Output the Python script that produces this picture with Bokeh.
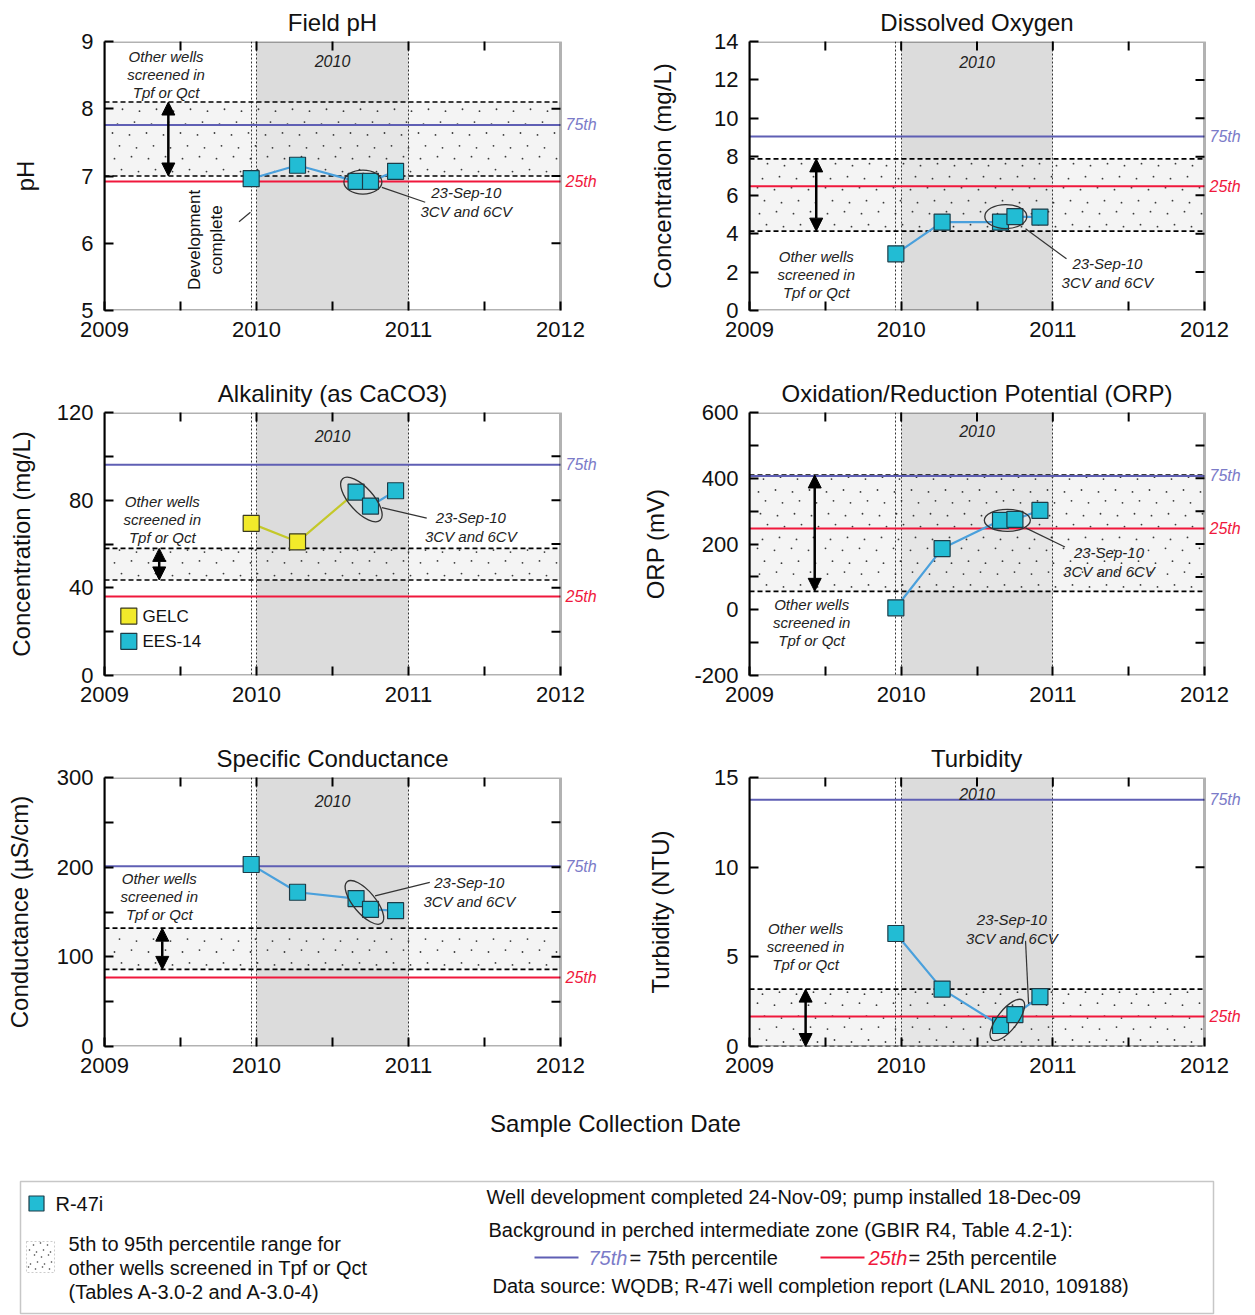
import math
from bokeh.plotting import figure
from bokeh.models import Range1d, FixedTicker, Label, Arrow, NormalHead, BoxAnnotation
from bokeh.layouts import column, row
from bokeh.embed import file_html
from bokeh.resources import INLINE

FONT = "Liberation Sans"

# ---------------- data ----------------
year_ticks = [2009, 2010, 2011, 2012]
half_year_ticks = [2009.5, 2010.5, 2011.5]
highlight_years = [2010.0, 2011.0]
pump_installed = 2009.965
sample_years = [2009.965, 2010.27, 2010.655, 2010.75, 2010.915]

ph_values = [6.96, 7.16, 6.92, 6.92, 7.07]
ph_p75, ph_p25 = 7.76, 6.92
ph_band = [7.0, 8.1]

do_values = [2.95, 4.6, 4.6, 4.89, 4.86]
do_p75, do_p25 = 9.06, 6.47
do_band = [4.13, 7.89]

alk_gelc_years = [2009.965, 2010.27]
alk_gelc_values = [69.4, 61.0]
alk_ees_years = [2010.655, 2010.75, 2010.915]
alk_ees_values = [83.7, 77.3, 84.3]
alk_p75, alk_p25 = 96.2, 36.0
alk_band = [43.6, 58.0]

orp_values = [6, 186, 272, 275, 302]
orp_p75, orp_p25 = 407, 247
orp_band = [56, 410]

cond_values = [203, 172, 165, 153, 151.5]
cond_p75, cond_p25 = 201, 77
cond_band = [86, 132]

turb_values = [6.3, 3.2, 1.17, 1.78, 2.78]
turb_p75, turb_p25 = 13.76, 1.67
turb_band = [0.0, 3.2]

# ---------------- style ----------------
C75 = "#5f5fb4"
C75T = "#7b7bc8"
C25 = "#f0183c"
CMARK = "#22bcd4"
CLINE = "#4aa0dc"
CGELC = "#f2ea2a"
CGELCL = "#c4c82a"
GRAY = "#dcdcdc"
EXT_PX = 46  # room right of the 2012 edge for the "75th"/"25th" tags
TITLE_PX = 24

# approximate Arial/Liberation Sans advance widths (per 1000 em) for centring titles
_W = {' ': 278, '(': 333, ')': 333, '/': 278, 'A': 667, 'C': 722, 'D': 722, 'F': 611,
      'H': 722, 'L': 556, 'O': 778, 'P': 667, 'R': 722, 'S': 667, 'T': 611, 'a': 556,
      'b': 556, 'c': 500, 'd': 556, 'e': 556, 'f': 278, 'g': 556, 'h': 556, 'i': 222,
      'k': 500, 'l': 222, 'n': 556, 'o': 556, 'p': 556, 'r': 333, 's': 500, 't': 278,
      'u': 556, 'v': 500, 'x': 500, 'y': 500}


def text_width(t, px):
    return sum(_W.get(c, 556) for c in t) * px / 1000.0


def style_axis(ax):
    ax.axis_line_width = 2
    ax.axis_line_color = "black"
    ax.major_tick_in = 9
    ax.major_tick_out = 0
    ax.minor_tick_in = 9
    ax.minor_tick_out = 0
    ax.major_tick_line_width = 2
    ax.minor_tick_line_width = 2
    ax.major_tick_line_color = "black"
    ax.minor_tick_line_color = "black"
    ax.major_label_text_font = FONT
    ax.major_label_text_color = "#111111"
    ax.major_label_text_font_size = "22px"


def stipple(p, x0, x1, y0, y1, sx, sy, step_x=17, step_y=12, size=1.8):
    """light irregular dot texture inside a rectangle (decoration only)"""
    bw = (x1 - x0) * sx
    bh = (y1 - y0) * sy
    xs, ys = [], []
    for j in range(int(bh // step_y) + 1):
        for i in range(int(bw // step_x) + 1):
            px = i * step_x + (j * 7) % step_x + (i * 5 + j * 3) % 5
            py = step_y / 2 + j * step_y + (i * 2 + j) % 4 - 1.5
            if 1 < px < bw - 1 and 1 < py < bh - 1:
                xs.append(x0 + px / sx)
                ys.append(y0 + py / sy)
    p.scatter(xs, ys, marker="circle", size=size, fill_color="#1a1a1a",
              line_color=None, fill_alpha=0.85)


def panel(title, ylabel, yrange, yticks, yminor, band, p75, p25,
          w, h, bl, br, bt, bb, ylab_standoff, year_lab_off, notes):
    fw = w - bl - br            # frame width for 2009..2012
    fh = h - bt - bb
    sx = fw / 3.0
    sy = fh / (yrange[1] - yrange[0])
    xend = 2012 + EXT_PX / sx
    p = figure(width=w, height=h, x_range=Range1d(2009, xend),
               y_range=Range1d(*yrange), output_backend="svg",
               toolbar_location=None, title=title,
               min_border_left=bl, min_border_right=br - EXT_PX,
               min_border_top=bt, min_border_bottom=bb)
    p.title.align = "left"
    p.title.offset = fw / 2 - text_width(title, TITLE_PX) / 2
    p.title.text_font = FONT
    p.title.text_font_size = f"{TITLE_PX}px"
    p.title.text_font_style = "normal"
    p.title.text_color = "#111111"
    p.title.standoff = 12
    p.grid.visible = False
    p.outline_line_color = None

    xt = FixedTicker(ticks=year_ticks, minor_ticks=half_year_ticks)
    yt = FixedTicker(ticks=yticks, minor_ticks=yminor)
    p.xaxis.ticker = xt
    p.yaxis.ticker = yt
    style_axis(p.xaxis[0])
    style_axis(p.yaxis[0])
    p.xaxis.axis_line_color = None
    p.xaxis.major_label_standoff = 11
    p.yaxis.major_label_standoff = 11
    p.yaxis.major_label_overrides = {t: str(t) for t in yticks if t < 0}
    p.yaxis.axis_label = ylabel
    p.yaxis.axis_label_text_font = FONT
    p.yaxis.axis_label_text_font_size = "24px"
    p.yaxis.axis_label_text_font_style = "normal"
    p.yaxis.axis_label_text_color = "#111111"
    p.yaxis.axis_label_standoff = ylab_standoff

    # shaded year 2010
    p.vstrip(x0=[highlight_years[0]], x1=[highlight_years[1]],
             fill_color=GRAY, line_color=None)
    # band of other wells (pale fill + stipple)
    p.quad(left=[2009], right=[2012], bottom=[band[0]], top=[band[1]],
           fill_color="#ececec", fill_alpha=0.6, line_color=None)
    stipple(p, 2009, 2012, band[0], band[1], sx, sy)
    p.vspan(x=[pump_installed, highlight_years[0], highlight_years[1]],
            line_color="#333333", line_dash="2 2", line_width=1)
    p.segment(x0=[2009, 2009], x1=[2012, 2012], y0=band, y1=band,
              line_color="black", line_dash="5 3", line_width=1.6)
    p.segment(x0=[2009], x1=[2012], y0=[p75], y1=[p75], line_color=C75, line_width=2)
    p.segment(x0=[2009], x1=[2012], y0=[p25], y1=[p25], line_color=C25, line_width=2)

    # frame box (2009..2012) and mirrored inward ticks on top / right edges
    p.add_layout(BoxAnnotation(left=2009, right=2012, bottom=yrange[0], top=yrange[1],
                               fill_alpha=0, line_color="black", line_width=3,
                               level="overlay"))
    xtk = [t for t in year_ticks + half_year_ticks if 2009 < t < 2012]
    p.scatter(xtk, [yrange[1]] * len(xtk), marker="dash", angle=math.pi / 2,
              size=18, line_color="black", line_width=2)
    ytk = [t for t in yticks + yminor if yrange[0] < t < yrange[1]]
    tick_len = 9 / sx
    p.segment(x0=[2012 - tick_len] * len(ytk), x1=[2012] * len(ytk), y0=ytk, y1=ytk,
              line_color="black", line_width=2)

    p.add_layout(Label(x=2012, y=p75, x_offset=5, text="75th",
                       text_font=FONT, text_font_style="italic",
                       text_font_size="16px", text_color=C75T,
                       text_baseline="middle"))
    p.add_layout(Label(x=2012, y=p25, x_offset=5, text="25th",
                       text_font=FONT, text_font_style="italic",
                       text_font_size="16px", text_color=C25,
                       text_baseline="middle"))
    p.add_layout(Label(x=2010.5, y=yrange[1], y_offset=-year_lab_off,
                       text="2010", text_font=FONT, text_font_style="italic",
                       text_font_size="16px", text_color="#222222",
                       text_align="center", text_baseline="middle"))

    # other wells text + arrow
    ox, oy = notes["other"]
    for i, t in enumerate(["Other wells", "screened in", "Tpf or Qct"]):
        p.add_layout(Label(x=ox, y=oy, y_offset=-18 * i, text=t,
                           text_font=FONT, text_font_style="italic",
                           text_font_size="15px", text_color="#222222",
                           text_align="center", text_baseline="middle"))
    ax_ = notes["arrow_x"]
    p.add_layout(Arrow(x_start=ax_, y_start=band[0], x_end=ax_, y_end=band[1],
                       line_width=2.5, line_color="black",
                       start=NormalHead(size=13, fill_color="black", line_color="black"),
                       end=NormalHead(size=13, fill_color="black", line_color="black")))
    return p


def add_series(p, xs, ys, line_color, fill_color):
    p.line(xs, ys, line_color=line_color, line_width=2.2)
    p.scatter(xs, ys, marker="square", size=16, fill_color=fill_color,
              line_color="#1d3c48", line_width=1.2)


def add_callout(p, notes):
    cx, cy, ew, eh, ang = notes["ellipse"]
    p.ellipse(x=[cx], y=[cy], width=[ew], height=[eh], angle=[math.radians(ang)],
              width_units="screen", height_units="screen",
              fill_alpha=0, line_color="#333333", line_width=1.3)
    x0, y0, x1, y1 = notes["leader"]
    p.segment(x0=[x0], y0=[y0], x1=[x1], y1=[y1], line_color="#333333", line_width=1.2)
    tx, ty = notes["sep"]
    for i, t in enumerate(["23-Sep-10", "3CV and 6CV"]):
        p.add_layout(Label(x=tx, y=ty, y_offset=-19 * i, text=t,
                           text_font=FONT, text_font_style="italic",
                           text_font_size="15px", text_color="#222222",
                           text_align="center", text_baseline="middle"))


# ---------------- panels ----------------
p1 = panel("Field pH", "pH", (5, 9), [5, 6, 7, 8, 9], [], ph_band, ph_p75, ph_p25,
           627, 360, 104, 67, 40, 48, 39, 19,
           {"other": (2009.405, 8.77), "arrow_x": 2009.42})
add_series(p1, sample_years, ph_values, CLINE, CMARK)
add_callout(p1, {"ellipse": (2010.70, 6.91, 38, 24, 0),
                 "leader": (2010.825, 6.83, 2011.11, 6.61),
                 "sep": (2011.38, 6.76)})
p1.add_layout(Label(x=2009.665, y=6.05, text="Development\ncomplete", angle=math.pi / 2,
                    text_font=FONT, text_font_size="17px", text_color="#111111",
                    text_align="center", text_baseline="middle"))
p1.segment(x0=[2009.885], y0=[6.32], x1=[2009.96], y1=[6.46],
           line_color="#333333", line_width=1.2)

p2 = panel("Dissolved Oxygen", "Concentration (mg/L)", (0, 14), list(range(0, 15, 2)), [],
           do_band, do_p75, do_p25, 628, 360, 122, 51, 41, 50, 35, 20,
           {"other": (2009.44, 2.83), "arrow_x": 2009.44})
add_series(p2, sample_years, do_values, CLINE, CMARK)
add_callout(p2, {"ellipse": (2010.69, 4.89, 42, 24, 0),
                 "leader": (2010.82, 4.25, 2011.09, 2.69),
                 "sep": (2011.36, 2.43)})

p3 = panel("Alkalinity (as CaCO3)", "Concentration (mg/L)", (0, 120), [0, 40, 80, 120],
           [20, 60, 100], alk_band, alk_p75, alk_p25,
           627, 370, 104, 67, 46, 55, 19, 23,
           {"other": (2009.38, 79.6), "arrow_x": 2009.36})
p3.line(alk_gelc_years + alk_ees_years[:1], alk_gelc_values + alk_ees_values[:1],
        line_color=CGELCL, line_width=2.2)
add_series(p3, alk_ees_years, alk_ees_values, CLINE, CMARK)
p3.scatter(alk_gelc_years, alk_gelc_values, marker="square", size=16,
           fill_color=CGELC, line_color="#3a3a20", line_width=1.2)
add_callout(p3, {"ellipse": (2010.69, 80.3, 56, 24, -48),
                 "leader": (2010.825, 76.6, 2011.12, 71.8),
                 "sep": (2011.41, 72.1)})
# lab legend
p3.scatter([2009.16], [27.1], marker="square", size=16, fill_color=CGELC,
           line_color="#3a3a20", line_width=1.2)
p3.scatter([2009.16], [15.6], marker="square", size=16, fill_color=CMARK,
           line_color="#1d3c48", line_width=1.2)
for ly, lt in [(27.1, "GELC"), (15.6, "EES-14")]:
    p3.add_layout(Label(x=2009.25, y=ly, text=lt, text_font=FONT,
                        text_font_size="17px", text_color="#111111",
                        text_baseline="middle"))

p4 = panel("Oxidation/Reduction Potential (ORP)", "ORP (mV)", (-200, 600),
           [-200, 0, 200, 400, 600], [-100, 100, 300, 500], orp_band, orp_p75, orp_p25,
           628, 370, 122, 51, 52, 52, 22, 18,
           {"other": (2009.41, 16), "arrow_x": 2009.43})
add_series(p4, sample_years, orp_values, CLINE, CMARK)
add_callout(p4, {"ellipse": (2010.70, 272, 46, 22, 0),
                 "leader": (2010.82, 249, 2011.08, 191),
                 "sep": (2011.37, 173)})

p5 = panel("Specific Conductance", "Conductance (µS/cm)", (0, 300), [0, 100, 200, 300],
           [50, 150, 250], cond_band, cond_p75, cond_p25,
           627, 370, 104, 67, 47, 52, 21, 23,
           {"other": (2009.36, 187), "arrow_x": 2009.38})
add_series(p5, sample_years, cond_values, CLINE, CMARK)
add_callout(p5, {"ellipse": (2010.71, 160.7, 54, 22, -50),
                 "leader": (2010.78, 168, 2011.14, 183),
                 "sep": (2011.40, 183)})

p6 = panel("Turbidity", "Turbidity (NTU)", (0, 15), [0, 5, 10, 15], [],
           turb_band, turb_p75, turb_p25,
           628, 370, 122, 51, 46, 54, 37, 16,
           {"other": (2009.37, 6.59), "arrow_x": 2009.37})
add_series(p6, sample_years, turb_values, CLINE, CMARK)
add_callout(p6, {"ellipse": (2010.70, 1.48, 50, 20, 52),
                 "leader": (2010.84, 2.37, 2010.82, 5.89),
                 "sep": (2010.73, 7.09)})

# ---------------- bottom: x label + legend box ----------------
pb = figure(width=1255, height=215, x_range=Range1d(0, 1255), y_range=Range1d(215, 0),
            output_backend="svg", toolbar_location=None, x_axis_type=None,
            y_axis_type=None, min_border=0)
pb.grid.visible = False
pb.outline_line_color = None


def btext(x, y, t, size="20px", color="#111111", style="normal", align="left"):
    pb.add_layout(Label(x=x, y=y, text=t, text_font=FONT, text_font_size=size,
                        text_color=color, text_font_style=style,
                        text_align=align, text_baseline="middle"))


btext(615, 23, "Sample Collection Date", size="24px", align="center")
pb.add_layout(BoxAnnotation(left=20, right=1213, top=81, bottom=213, fill_alpha=0,
                            line_color="#444444", line_width=1.5))
pb.scatter([36], [103], marker="square", size=15, fill_color=CMARK,
           line_color="#1d3c48", line_width=1.2)
btext(55, 103, "R-47i")
pb.add_layout(BoxAnnotation(left=26, right=54, top=141, bottom=172, fill_alpha=0,
                            line_color="#555555", line_dash="2 2", line_width=1))
stipple(pb, 26, 54, 141, 172, 1.0, 1.0, step_x=7, step_y=6, size=1.6)
btext(68, 143, "5th to 95th percentile range for")
btext(68, 167, "other wells screened in Tpf or Qct")
btext(68, 191, "(Tables A-3.0-2 and A-3.0-4)")
btext(486, 96, "Well development completed 24-Nov-09; pump installed 18-Dec-09")
btext(488, 129, "Background in perched intermediate zone (GBIR R4, Table 4.2-1):")
pb.segment(x0=[534], y0=[157], x1=[578], y1=[157], line_color=C75, line_width=2)
btext(588, 157, "75th", color=C75T, style="italic")
btext(629, 157, "= 75th percentile")
pb.segment(x0=[820], y0=[157], x1=[864], y1=[157], line_color=C25, line_width=2)
btext(868, 157, "25th", color=C25, style="italic")
btext(908, 157, "= 25th percentile")
btext(492, 185, "Data source: WQDB; R-47i well completion report (LANL 2010, 109188)")

layout = column(row(p1, p2), row(p3, p4), row(p5, p6), pb)
open("out.html", "w").write(file_html(layout, INLINE))
